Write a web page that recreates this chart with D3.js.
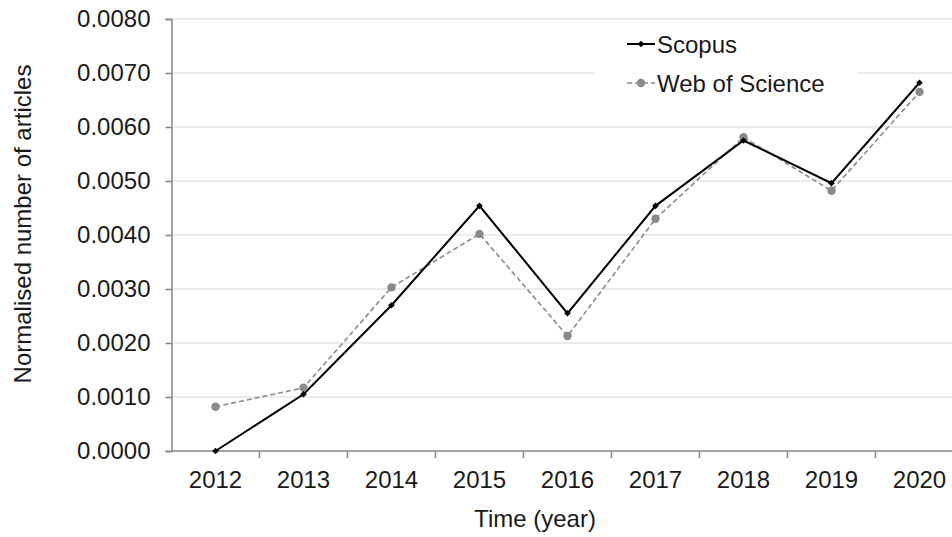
<!DOCTYPE html>
<html>
<head>
<meta charset="utf-8">
<script src="https://cdn.jsdelivr.net/npm/d3@7"></script>
<style>
  html, body { margin: 0; padding: 0; background: #fff; }
  svg { display: block; }
  text { font-family: "Liberation Sans", Arial, sans-serif; fill: #1a1a1a; }
</style>
</head>
<body>
<div id="chart"></div>
<script>
const years = ["2012","2013","2014","2015","2016","2017","2018","2019","2020"];
const scopus = [0.0000, 0.00105, 0.00270, 0.00454, 0.00255, 0.00454, 0.00575, 0.00496, 0.00682];
const wos    = [0.00082, 0.00117, 0.00303, 0.00402, 0.00213, 0.00430, 0.00581, 0.00482, 0.00665];
const yTicks = [0, 0.001, 0.002, 0.003, 0.004, 0.005, 0.006, 0.007, 0.008];
const seriesNames = ["Scopus", "Web of Science"];

const W = 952, H = 537;
const plotLeft = 171.5, plotBottom = 451, plotTop = 19;
const band = 88;

const svg = d3.select("#chart").append("svg").attr("width", W).attr("height", H);

const x = d3.scaleBand().domain(years).range([plotLeft, plotLeft + band * years.length]).padding(0);
const y = d3.scaleLinear().domain([0, 0.008]).range([plotBottom, plotTop]);
const cx = d => x(d) + x.bandwidth() / 2;

// gridlines
svg.append("g").selectAll("line").data(yTicks.slice(1)).join("line")
  .attr("x1", plotLeft).attr("x2", W)
  .attr("y1", d => y(d)).attr("y2", d => y(d))
  .attr("stroke", "#e4e4e4").attr("stroke-width", 1.5);

// y axis
const yAxis = svg.append("g").attr("transform", `translate(${plotLeft},0)`)
  .call(d3.axisLeft(y).tickValues(yTicks).tickFormat(d3.format(".4f")).tickSize(6).tickPadding(15));
yAxis.select(".domain").attr("stroke", "#858585").attr("stroke-width", 1.5);
yAxis.selectAll(".tick line").attr("stroke", "#858585").attr("stroke-width", 1.5);
yAxis.selectAll(".tick text").attr("font-size", 24).attr("font-family", "Liberation Sans, Arial, sans-serif").attr("fill", "#1a1a1a");

// x axis line + ticks at band boundaries
const xAxis = svg.append("g");
xAxis.append("line").attr("x1", plotLeft).attr("x2", W).attr("y1", plotBottom).attr("y2", plotBottom)
  .attr("stroke", "#858585").attr("stroke-width", 1.5);
xAxis.selectAll("line.tk").data(years.slice(1)).join("line").attr("class", "tk")
  .attr("x1", d => x(d)).attr("x2", d => x(d)).attr("y1", plotBottom).attr("y2", plotBottom + 7)
  .attr("stroke", "#858585").attr("stroke-width", 1.5);
xAxis.selectAll("text").data(years).join("text")
  .attr("x", d => cx(d)).attr("y", 488).attr("text-anchor", "middle")
  .attr("font-size", 24).text(d => d);

// axis titles
svg.append("text").attr("x", 535).attr("y", 527).attr("text-anchor", "middle")
  .attr("font-size", 24).text("Time (year)");
svg.append("text").attr("transform", "translate(31,224) rotate(-90)").attr("text-anchor", "middle")
  .attr("font-size", 24).text("Normalised number of articles");

// lines
const line = d3.line().x((d, i) => cx(years[i])).y(d => y(d));
svg.append("path").datum(wos).attr("d", line).attr("fill", "none")
  .attr("stroke", "#8a8a8a").attr("stroke-width", 1.6).attr("stroke-dasharray", "5,3");
svg.append("path").datum(scopus).attr("d", line).attr("fill", "none")
  .attr("stroke", "#000").attr("stroke-width", 2);

// markers
svg.append("g").selectAll("circle").data(wos).join("circle")
  .attr("cx", (d, i) => cx(years[i])).attr("cy", d => y(d)).attr("r", 4.2).attr("fill", "#8a8a8a");
const diamond = d3.symbol().type(d3.symbolSquare).size(22);
svg.append("g").selectAll("path").data(scopus).join("path")
  .attr("d", diamond).attr("transform", (d, i) => `translate(${cx(years[i])},${y(d)}) rotate(45)`).attr("fill", "#000");

// legend
const lg = svg.append("g");
lg.append("rect").attr("x", 595).attr("y", 25).attr("width", 262).attr("height", 76).attr("fill", "#fff");
const legendY = [44, 83];
lg.append("line").attr("x1", 627).attr("x2", 655).attr("y1", legendY[0]).attr("y2", legendY[0])
  .attr("stroke", "#000").attr("stroke-width", 2);
lg.append("path").attr("d", diamond).attr("transform", `translate(641,${legendY[0]}) rotate(45)`).attr("fill", "#000");
lg.append("line").attr("x1", 627).attr("x2", 655).attr("y1", legendY[1]).attr("y2", legendY[1])
  .attr("stroke", "#8a8a8a").attr("stroke-width", 1.6).attr("stroke-dasharray", "5,3");
lg.append("circle").attr("cx", 641).attr("cy", legendY[1]).attr("r", 4.2).attr("fill", "#8a8a8a");
lg.selectAll("text").data(seriesNames).join("text")
  .attr("x", 657).attr("y", (d, i) => legendY[i] + 8.5).attr("font-size", 24).text(d => d);
</script>
</body>
</html>
